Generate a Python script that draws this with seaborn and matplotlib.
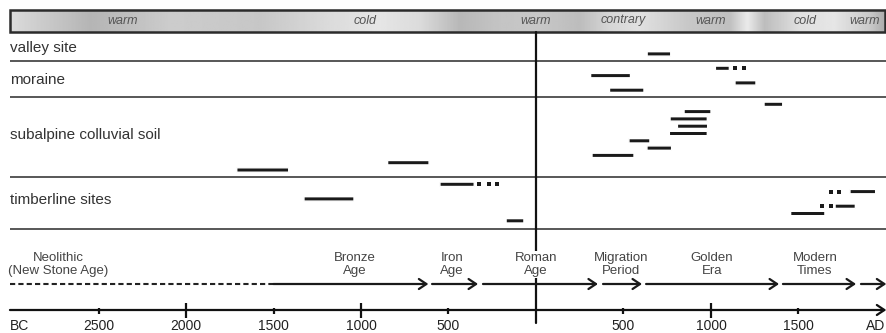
import matplotlib
matplotlib.use("Agg")
import matplotlib.pyplot as plt
from matplotlib.patches import Rectangle
import seaborn as sns
import numpy as np
import pandas as pd

sns.set_theme(style="white")
plt.rcParams['font.family'] = ['Liberation Sans', 'DejaVu Sans']

# %%
# data (years, negative = BC)
rows = ["valley site", "moraine", "subalpine colluvial soil", "timberline sites"]

bar_row = [0, 1, 1, 1, 1, 2, 2, 2, 2, 2, 2, 2, 2, 2, 2, 3, 3, 3, 3, 3, 3]
bar_lane = [3, 1, 2, 3, 4, 1, 2, 3, 4, 5, 6, 7, 8, 9, 10, 1, 2, 3, 4, 5, 6]
bar_start = [635, 1025, 312, 1137, 420, 1303, 846, 766, 808, 762, 531, 634, 320, -848, -1710,
             -549, 1794, -1326, 1709, 1455, -171]
bar_end = [770, 1105, 540, 1257, 617, 1410, 1000, 979, 981, 979, 651, 775, 560, -611, -1413,
           -353, 1941, -1040, 1825, 1651, -69]

dot_row = [1, 1, 3, 3, 3, 3, 3, 3, 3]
dot_lane = [1, 1, 1, 1, 1, 2, 2, 4, 4]
dot_year = [1140, 1190, -324, -270, -221, 1684, 1733, 1633, 1684]

climate_labels = ["warm", "cold", "warm", "contrary", "warm", "cold", "warm"]
climate_x = [-2360, -977, 0, 497, 1000, 1537, 1880]

period_names = ["Neolithic\n(New Stone Age)", "Bronze\nAge", "Iron\nAge", "Roman\nAge",
                "Migration\nPeriod", "Golden\nEra", "Modern\nTimes"]
period_x = [-2730, -1034, -480, 0, 486, 1006, 1594]
neolithic_span = [-3006, -1500]
seg_start = [-1500, -594, -303, 383, 629, 1411, 1857]
seg_end = [-615, -331, 354, 606, 1389, 1829, 2002]

major_ticks = [-2000, -1000, 1000]
minor_ticks = [-2500, -1500, -500, 500, 1500]

# climate bar shading (year, grey level)
shade_year = [-3006, -2834, -2549, -2377, -2091, -1577, -1177, -891, -663, -434, -206, 23,
              251, 423, 594, 880, 1109, 1211, 1309, 1509, 1709, 1909, 1994]
shade_grey = [0.86, 0.80, 0.71, 0.74, 0.80, 0.78, 0.86, 0.90, 0.86, 0.72, 0.77, 0.78,
              0.74, 0.84, 0.88, 0.78, 0.75, 0.92, 0.74, 0.88, 0.90, 0.79, 0.68]

# %%
# layout (pixel units on y)
px_per_year = 0.175
x_left, x_right = -536 / px_per_year, (887 - 536) / px_per_year
row_top = [32, 61, 97, 177]
row_label_y = [48, 80, 135, 200]
separators = [60.5, 97, 177, 229]
lane_step = 7.3

fig = plt.figure(figsize=(8.87, 3.33), dpi=100)
ax = fig.add_axes([0, 0, 1, 1])
ax.axis('off')

# climate strip
xs = np.linspace(-3006, 1994, 600)
grad = np.interp(xs, shade_year, shade_grey)
ax.imshow(grad[np.newaxis, :], extent=[-3006, 1994, 32, 10], aspect='auto',
          cmap='gray', vmin=0, vmax=1, zorder=1, interpolation='bilinear')
ax.add_patch(Rectangle((-3006, 10), 1994 + 3006, 22, fill=False, ec='#2b2b2b', lw=1.8, zorder=2))
for lab, x in zip(climate_labels, climate_x):
    ax.text(x, 20.5, lab, ha='center', va='center', fontsize=9, style='italic', color='#555555', zorder=3)

# row separators and labels
ax.hlines(separators, -3006, 2006, color='#4a4a4a', lw=1.3, zorder=2)
for lab, y in zip(rows, row_label_y):
    ax.text(-3006, y, lab, ha='left', va='center', fontsize=11, color='#333333')

# year zero line
ax.plot([0, 0], [32, 323], color='#111111', lw=1.6, zorder=2)

# bars
bar_y = [row_top[r] + l * lane_step for r, l in zip(bar_row, bar_lane)]
bars = ax.barh(bar_y, np.array(bar_end) - np.array(bar_start), left=bar_start, height=4.4,
               color='#1a1a1a', zorder=3)
for b in bars:
    b.set_snap(False)

dots = pd.DataFrame({'year': dot_year,
                     'y': [row_top[r] + l * lane_step for r, l in zip(dot_row, dot_lane)]})
sns.scatterplot(data=dots, x='year', y='y', marker='s', s=8, color='#1a1a1a',
                linewidth=0, ax=ax, zorder=3)

# periods
ax.plot(neolithic_span, [284, 284], color='#222222', lw=1.5, ls=(0, (2.5, 1.5)))
for s, e in zip(seg_start, seg_end):
    ax.annotate('', xy=(e, 284), xytext=(s, 284),
                arrowprops=dict(arrowstyle='->,head_length=0.45,head_width=0.3',
                                color='#1a1a1a', lw=1.6, shrinkA=0, shrinkB=0))
for name, x in zip(period_names, period_x):
    bb = dict(facecolor='white', edgecolor='none', pad=0.5) if x == 0 else None
    ax.text(x, 264.5, name, ha='center', va='center', fontsize=9.5, color='#444444',
            linespacing=1.15, bbox=bb, zorder=4)

# time axis
ax.annotate('', xy=(2002, 310), xytext=(-3006, 310),
            arrowprops=dict(arrowstyle='->,head_length=0.45,head_width=0.3',
                            color='#111111', lw=1.6, shrinkA=0, shrinkB=0))
ax.vlines(major_ticks, 303, 318, color='#111111', lw=1.6)
ax.vlines(minor_ticks, 307.5, 313.5, color='#111111', lw=1.6)
for t in major_ticks + minor_ticks:
    ax.text(t, 325.5, str(abs(t)), ha='center', va='center', fontsize=10, color='#222222')
ax.text(-3006, 325.5, 'BC', ha='left', va='center', fontsize=10, color='#222222')
ax.text(1886, 325.5, 'AD', ha='left', va='center', fontsize=10, color='#222222')

ax.set_xlim(x_left, x_right)
ax.set_ylim(333, 0)

fig.savefig('out.png', dpi=100)
